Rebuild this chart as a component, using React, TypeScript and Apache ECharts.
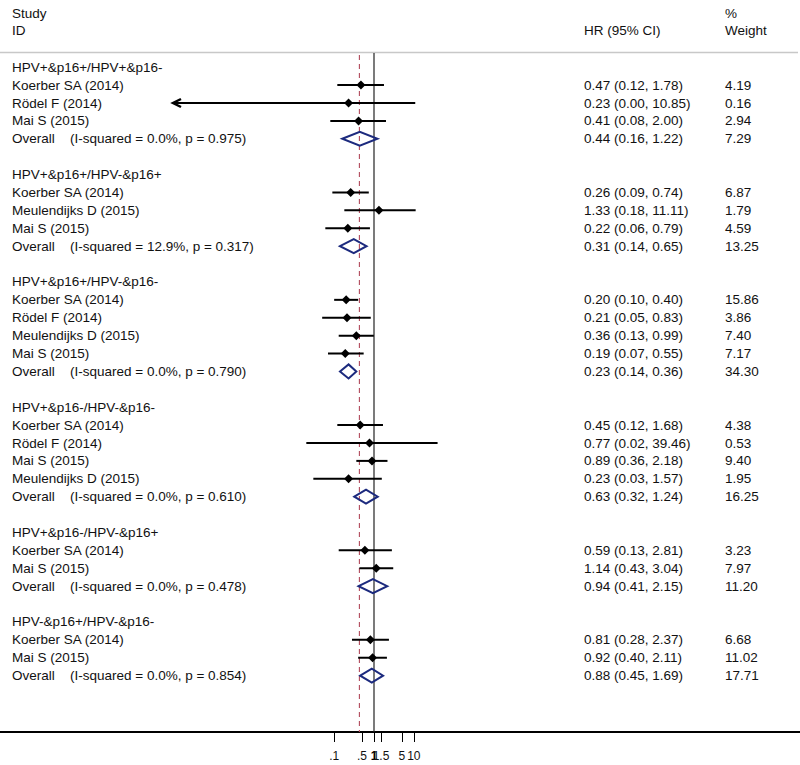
import React, { useEffect, useRef } from "react";
import * as echarts from "echarts";

const groupTitles = [
  "HPV+&p16+/HPV+&p16-",
  "HPV+&p16+/HPV-&p16+",
  "HPV+&p16+/HPV-&p16-",
  "HPV+&p16-/HPV-&p16-",
  "HPV+&p16-/HPV-&p16+",
  "HPV-&p16+/HPV-&p16-",
];
const studyGroup = [0, 0, 0, 1, 1, 1, 2, 2, 2, 2, 3, 3, 3, 3, 4, 4, 5, 5];
const studyNames = [
  "Koerber SA (2014)", "Rödel F (2014)", "Mai S (2015)",
  "Koerber SA (2014)", "Meulendijks D (2015)", "Mai S (2015)",
  "Koerber SA (2014)", "Rödel F (2014)", "Meulendijks D (2015)", "Mai S (2015)",
  "Koerber SA (2014)", "Rödel F (2014)", "Mai S (2015)", "Meulendijks D (2015)",
  "Koerber SA (2014)", "Mai S (2015)",
  "Koerber SA (2014)", "Mai S (2015)",
];
const studyHR = [0.47, 0.23, 0.41, 0.26, 1.33, 0.22, 0.2, 0.21, 0.36, 0.19, 0.45, 0.77, 0.89, 0.23, 0.59, 1.14, 0.81, 0.92];
const studyLow = [0.12, 0.0, 0.08, 0.09, 0.18, 0.06, 0.1, 0.05, 0.13, 0.07, 0.12, 0.02, 0.36, 0.03, 0.13, 0.43, 0.28, 0.4];
const studyHigh = [1.78, 10.85, 2.0, 0.74, 11.11, 0.79, 0.4, 0.83, 0.99, 0.55, 1.68, 39.46, 2.18, 1.57, 2.81, 3.04, 2.37, 2.11];
const studyWeight = [4.19, 0.16, 2.94, 6.87, 1.79, 4.59, 15.86, 3.86, 7.4, 7.17, 4.38, 0.53, 9.4, 1.95, 3.23, 7.97, 6.68, 11.02];

const overallHR = [0.44, 0.31, 0.23, 0.63, 0.94, 0.88];
const overallLow = [0.16, 0.14, 0.14, 0.32, 0.41, 0.45];
const overallHigh = [1.22, 0.65, 0.36, 1.24, 2.15, 1.69];
const overallWeight = [7.29, 13.25, 34.3, 16.25, 11.2, 17.71];
const overallI2 = [0.0, 12.9, 0.0, 0.0, 0.0, 0.0];
const overallP = [0.975, 0.317, 0.79, 0.61, 0.478, 0.854];

const pooledHR = 0.43; // dashed reference line
const nullHR = 1; // solid line of no effect
const tickValues = [0.1, 0.5, 1, 1.5, 5, 10];
const tickLabels = [".1", ".5", "1", "1.5", "5", "10"];
const ciFloor = 0.000009; // CI below this is drawn as an arrow

// layout
const FONT = 'Arial, "Liberation Sans", sans-serif';
const TEXT_COLOR = "#111111";
const FS = 13.5;
const X_LABEL = 12;
const X_I2 = 70;
const X_HR = 584;
const X_W = 725;

type Row = { kind: "header" | "study" | "overall"; row: number; idx: number };
const rows: Row[] = [];
{
  let r = 0;
  groupTitles.forEach((_, g) => {
    rows.push({ kind: "header", row: r++, idx: g });
    studyGroup.forEach((sg, i) => {
      if (sg === g) rows.push({ kind: "study", row: r++, idx: i });
    });
    rows.push({ kind: "overall", row: r++, idx: g });
    r++;
  });
}

const fmtCI = (h: number, l: number, u: number) =>
  `${h.toFixed(2)} (${l.toFixed(2)}, ${u.toFixed(2)})`;

const txt = (x: number, y: number, text: string) => ({
  type: "text",
  x,
  y,
  style: { text, fill: TEXT_COLOR, font: `${FS}px ${FONT}`, textVerticalAlign: "middle", verticalAlign: "middle", align: "left" },
});

export default function App() {
  const ref = useRef<HTMLDivElement>(null);
  useEffect(() => {
    if (!ref.current) return;
    const chart = echarts.init(ref.current, undefined, { renderer: "svg" });

    const studyRows = rows.filter((r) => r.kind === "study");
    const overallRows = rows.filter((r) => r.kind === "overall");

    const studyData = studyRows.map((r) => {
      const i = r.idx;
      const clipped = studyLow[i] < ciFloor;
      return [Math.log(studyHR[i]), r.row, Math.log(clipped ? ciFloor : studyLow[i]), Math.log(studyHigh[i]), clipped ? 1 : 0];
    });
    const overallData = overallRows.map((r) => {
      const g = r.idx;
      return [Math.log(overallHR[g]), r.row, Math.log(overallLow[g]), Math.log(overallHigh[g])];
    });

    const option: any = {
      animation: false,
      backgroundColor: "#ffffff",
      grid: { left: 0, right: 0, top: 52, bottom: 33, containLabel: false },
      xAxis: {
        type: "value",
        min: -374 / 17.3,
        max: 426 / 17.3,
        axisLine: { show: true, onZero: false, lineStyle: { color: "#000", width: 2 } },
        axisTick: {
          show: true,
          length: 10,
          inside: false,
          customValues: tickValues.map((v) => Math.log(v)),
          lineStyle: { color: "#000", width: 1 },
        },
        axisLabel: {
          show: true,
          hideOverlap: false,
          margin: 18,
          fontSize: 12,
          fontFamily: FONT,
          color: TEXT_COLOR,
          customValues: tickValues.map((v) => Math.log(v)),
          formatter: (v: number) => {
            const i = tickValues.findIndex((t) => Math.abs(Math.log(t) - v) < 1e-6);
            if (i < 0) return "";
            return tickValues[i] === 1 ? `{b|${tickLabels[i]}}` : tickLabels[i];
          },
          rich: { b: { fontWeight: "bold", fontSize: 12, fontFamily: FONT, color: "#000" } },
        },
        splitLine: { show: false },
      },
      yAxis: {
        type: "value",
        inverse: true,
        min: -0.85,
        max: 37.15,
        show: false,
        splitLine: { show: false },
      },
      graphic: [
        txt(X_LABEL, 13, "Study"),
        txt(X_LABEL, 30, "ID"),
        txt(X_HR, 30, "HR (95% CI)"),
        txt(X_W, 13, "%"),
        txt(X_W, 30, "Weight"),
        {
          type: "line",
          shape: { x1: 0, y1: 52.5, x2: 798, y2: 52.5 },
          style: { stroke: "#c8c8c8", lineWidth: 1.5 },
        },
      ],
      series: [
        {
          type: "custom",
          name: "refLines",
          z: 1,
          data: [
            [Math.log(nullHR), 0],
            [Math.log(pooledHR), 1],
          ],
          encode: { x: 0 },
          renderItem: (params: any, api: any) => {
            const cs = params.coordSys;
            const x = api.coord([api.value(0), 0])[0];
            const dashed = api.value(1) === 1;
            return {
              type: "line",
              shape: { x1: x, y1: dashed ? cs.y + 3 : cs.y + 1, x2: x, y2: cs.y + cs.height },
              style: dashed
                ? { stroke: "#b24a5c", lineWidth: 1.1, lineDash: [5, 4] }
                : { stroke: "#222", lineWidth: 1.2 },
            };
          },
        },
        {
          type: "custom",
          name: "studies",
          z: 3,
          data: studyData,
          encode: { x: [0, 2, 3], y: 1 },
          renderItem: (params: any, api: any) => {
            const c = api.coord([api.value(0), api.value(1)]);
            const l = api.coord([api.value(2), api.value(1)]);
            const h = api.coord([api.value(3), api.value(1)]);
            const y = c[1];
            const children: any[] = [
              { type: "line", shape: { x1: l[0], y1: y, x2: h[0], y2: y }, style: { stroke: "#000", lineWidth: 2 } },
              {
                type: "polygon",
                shape: { points: [[c[0] - 4.5, y], [c[0], y - 4.5], [c[0] + 4.5, y], [c[0], y + 4.5]] },
                style: { fill: "#000" },
              },
            ];
            if (api.value(4) === 1) {
              children.push({
                type: "polyline",
                shape: { points: [[l[0] + 8, y - 4], [l[0], y], [l[0] + 8, y + 4]] },
                style: { stroke: "#000", lineWidth: 2.5, fill: null },
              });
            }
            return { type: "group", children };
          },
        },
        {
          type: "custom",
          name: "overall",
          z: 3,
          data: overallData,
          encode: { x: [0, 2, 3], y: 1 },
          renderItem: (params: any, api: any) => {
            const c = api.coord([api.value(0), api.value(1)]);
            const l = api.coord([api.value(2), api.value(1)]);
            const h = api.coord([api.value(3), api.value(1)]);
            const y = c[1];
            return {
              type: "polygon",
              shape: { points: [[l[0], y], [c[0], y - 7], [h[0], y], [c[0], y + 7]] },
              style: { fill: "none", stroke: "#1c2a7e", lineWidth: 2 },
            };
          },
        },
        {
          type: "custom",
          name: "texts",
          z: 4,
          data: rows.map((r) => [0, r.row]),
          encode: { y: 1 },
          renderItem: (params: any, api: any) => {
            const r = rows[params.dataIndex];
            const y = api.coord([0, api.value(1)])[1];
            const children: any[] = [];
            if (r.kind === "header") {
              children.push(txt(X_LABEL, y, groupTitles[r.idx]));
            } else if (r.kind === "study") {
              const i = r.idx;
              children.push(txt(X_LABEL, y, studyNames[i]));
              children.push(txt(X_HR, y, fmtCI(studyHR[i], studyLow[i], studyHigh[i])));
              children.push(txt(X_W, y, studyWeight[i].toFixed(2)));
            } else {
              const g = r.idx;
              children.push(txt(X_LABEL, y, "Overall"));
              children.push(txt(X_I2, y, `(I-squared = ${overallI2[g].toFixed(1)}%, p = ${overallP[g].toFixed(3)})`));
              children.push(txt(X_HR, y, fmtCI(overallHR[g], overallLow[g], overallHigh[g])));
              children.push(txt(X_W, y, overallWeight[g].toFixed(2)));
            }
            return { type: "group", children };
          },
        },
      ],
    };
    chart.setOption(option);
    return () => chart.dispose();
  }, []);
  return (
    <div
      ref={ref}
      style={{ position: "fixed", left: 0, top: 0, width: 800, height: 765, background: "#fff" }}
    />
  );
}
